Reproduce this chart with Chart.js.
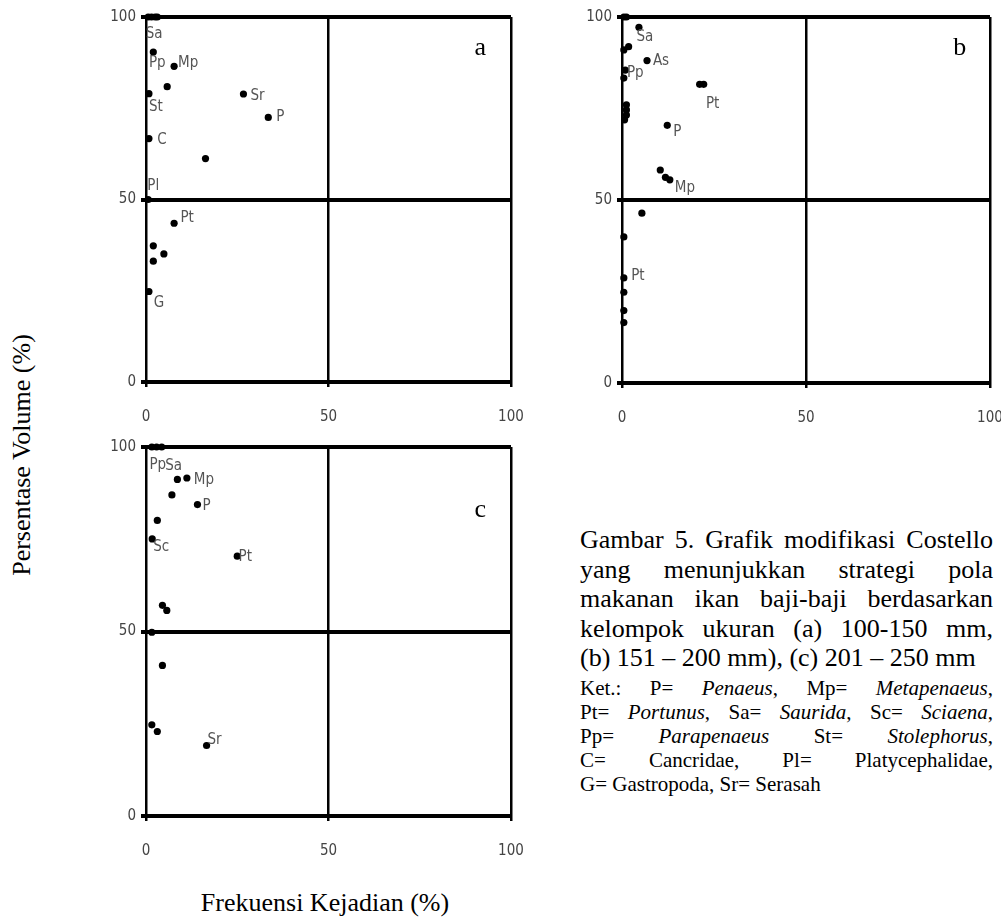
<!DOCTYPE html>
<html>
<head>
<meta charset="utf-8">
<script src="https://cdn.jsdelivr.net/npm/chart.js@4"></script>
<style>
  body { margin: 0; background: #fff; width: 1001px; height: 917px; position: relative; overflow: hidden; }
  canvas { position: absolute; }
  .serif { font-family: "Liberation Serif", "Times New Roman", serif; color: #000; position: absolute; white-space: nowrap; }
  #ytitle { font-size: 26px; left: 22px; top: 455px; transform: translate(-50%, -50%) rotate(-90deg); }
  #xtitle { font-size: 26px; left: 325px; top: 903px; transform: translate(-50%, -50%); }
  #caption { left: 580px; top: 525px; width: 413px; white-space: normal; }
  #caption .big { font-size: 26px; line-height: 29.5px; }
  #caption .ket { font-size: 21px; line-height: 24px; margin-top: 3px; }
  #caption .j { text-align: justify; text-align-last: justify; }
</style>
</head>
<body>
<canvas id="chartA" width="427" height="422" style="left:96px;top:0px"></canvas>
<canvas id="chartB" width="430" height="423" style="left:572px;top:0px"></canvas>
<canvas id="chartC" width="427" height="426" style="left:96px;top:430px"></canvas>

<div id="ytitle" class="serif">Persentase Volume (%)</div>
<div id="xtitle" class="serif">Frekuensi Kejadian (%)</div>

<div id="caption" class="serif">
  <div class="big">
    <div class="j">Gambar 5. Grafik modifikasi Costello</div>
    <div class="j">yang menunjukkan strategi pola</div>
    <div class="j">makanan ikan baji-baji berdasarkan</div>
    <div class="j">kelompok ukuran (a) 100-150 mm,</div>
    <div>(b) 151 – 200 mm), (c) 201 – 250 mm</div>
  </div>
  <div class="ket">
    <div class="j">Ket.: P= <i>Penaeus</i>, Mp= <i>Metapenaeus</i>,</div>
    <div class="j">Pt= <i>Portunus</i>, Sa= <i>Saurida</i>, Sc= <i>Sciaena</i>,</div>
    <div class="j">Pp= <i>Parapenaeus</i> St= <i>Stolephorus</i>,</div>
    <div class="j">C= Cancridae, Pl= Platycephalidae,</div>
    <div>G= Gastropoda, Sr= Serasah</div>
  </div>
</div>

<script>
// (a) 100-150 mm
const aX = [0.6, 1.5, 2.5, 3.1, 2.0, 7.7, 5.8, 0.8, 26.7, 33.5, 0.8, 16.3, 0.6, 7.7, 2.0, 4.9, 2.0, 0.8];
const aY = [100, 100, 100, 100, 90.4, 86.5, 80.9, 79.0, 78.9, 72.5, 66.7, 61.2, 50.0, 43.5, 37.3, 35.1, 33.1, 24.8];
const aLabels = ['Sa', '', '', '', 'Pp', 'Mp', '', 'St', 'Sr', 'P', 'C', '', 'Pl', 'Pt', '', '', '', 'G'];

// (b) 151-200 mm
const bX = [0.5, 1.2, 4.6, 1.8, 0.5, 6.8, 0.9, 0.5, 21.1, 22.2, 1.2, 1.2, 1.2, 0.7, 12.3, 10.4, 11.8, 13.0, 5.4, 0.5, 0.5, 0.5, 0.5, 0.5];
const bY = [100, 100, 97.2, 91.9, 91.0, 88.1, 85.5, 83.3, 81.6, 81.6, 76.0, 74.6, 73.2, 71.9, 70.4, 58.2, 56.2, 55.5, 46.4, 39.9, 28.7, 24.8, 19.8, 16.5];
const bLabels = ['', '', 'Sa', '', '', 'As', 'Pp', '', '', 'Pt', '', '', '', '', 'P', '', '', 'Mp', '', '', 'Pt', '', '', ''];

// (c) 201-250 mm
const cX = [1.6, 2.9, 4.3, 8.6, 11.2, 7.1, 14.1, 3.1, 1.7, 25.0, 4.5, 5.7, 1.6, 4.5, 1.6, 3.1, 16.6];
const cY = [100, 100, 100, 91.2, 91.6, 87.0, 84.4, 80.1, 75.1, 70.4, 57.1, 55.7, 49.8, 40.8, 24.7, 22.9, 19.1];
const cLabels = ['Pp', '', 'Sa', '', 'Mp', '', 'P', '', 'Sc', 'Pt', '', '', '', '', '', '', 'Sr'];

const axisTicks = [0, 50, 100];

// label offsets in pixels from their point (index -> [dx, dy])
const offsetsA = { 0: [6, 17], 4: [4, 11], 5: [14, -3], 7: [7, 13], 8: [14, 2], 9: [12, 0], 10: [13, 2], 12: [5, -13], 13: [13, -5], 17: [10, 12] };
const offsetsB = { 2: [6, 10], 5: [14, 1], 6: [10, 3], 9: [9, 20], 14: [10, 7], 17: [15, 8], 20: [14, -2] };
const offsetsC = { 0: [6, 18], 2: [12, 19], 4: [17, 2], 6: [9, 2], 8: [9, 8], 9: [8, 1], 16: [8, -5] };

const narrow = "'Liberation Sans Narrow', 'DejaVu Sans Condensed', 'Arial Narrow', sans-serif";
Chart.defaults.font.family = narrow;

const pointLabels = {
    id: 'pointLabels',
    afterDatasetsDraw(chart, args, opts) {
        const ctx = chart.ctx;
        const meta = chart.getDatasetMeta(0);
        ctx.save();
        ctx.font = '15px ' + narrow;
        ctx.fillStyle = '#555';
        ctx.textAlign = 'center';
        ctx.textBaseline = 'middle';
        opts.labels.forEach((t, i) => {
            if (!t) return;
            const off = opts.offsets[i] || [0, 0];
            const p = meta.data[i];
            ctx.fillText(t, p.x + off[0], p.y + off[1]);
        });
        // panel letter
        ctx.font = '26px "Liberation Serif", serif';
        ctx.fillStyle = '#000';
        ctx.fillText(opts.letter,
            chart.scales.x.getPixelForValue(opts.letterAt[0]),
            chart.scales.y.getPixelForValue(opts.letterAt[1]));
        ctx.restore();
    }
};

function makePanel(id, xs, ys, labels, offsets, letter, letterAt) {
    const pts = xs.map((x, i) => ({ x: x, y: ys[i] }));
    new Chart(document.getElementById(id), {
        type: 'scatter',
        data: {
            datasets: [{
                data: pts,
                backgroundColor: '#000',
                borderWidth: 0,
                pointRadius: 3.6,
                clip: false
            }]
        },
        options: {
            responsive: false,
            animation: false,
            events: [],
            layout: { padding: { top: 17, right: 12, left: 0, bottom: 0 } },
            plugins: {
                legend: { display: false },
                tooltip: { enabled: false },
                pointLabels: { labels: labels, offsets: offsets, letter: letter, letterAt: letterAt }
            },
            scales: {
                x: {
                    type: 'linear',
                    min: 0, max: 100,
                    afterBuildTicks: s => { s.ticks = axisTicks.map(v => ({ value: v })); },
                    afterFit: s => { s.height = 40; s.paddingLeft = 0; s.paddingRight = 0; },
                    border: { display: false },
                    grid: { color: '#000', lineWidth: 2.5, tickLength: 5 },
                    ticks: { color: '#444', padding: 21, font: { size: 15 }, maxRotation: 0 }
                },
                y: {
                    type: 'linear',
                    min: 0, max: 100,
                    afterBuildTicks: s => { s.ticks = axisTicks.map(v => ({ value: v })); },
                    afterFit: s => { s.width = 50; s.paddingTop = 0; s.paddingBottom = 0; },
                    border: { display: false },
                    grid: { color: '#000', lineWidth: 4, tickLength: 5 },
                    ticks: { color: '#444', padding: 5, font: { size: 15 } }
                }
            }
        },
        plugins: [pointLabels]
    });
}

makePanel('chartA', aX, aY, aLabels, offsetsA, 'a', [91.6, 91.5]);
makePanel('chartB', bX, bY, bLabels, offsetsB, 'b', [91.8, 91.5]);
makePanel('chartC', cX, cY, cLabels, offsetsC, 'c', [91.6, 83.0]);
</script>
</body>
</html>
